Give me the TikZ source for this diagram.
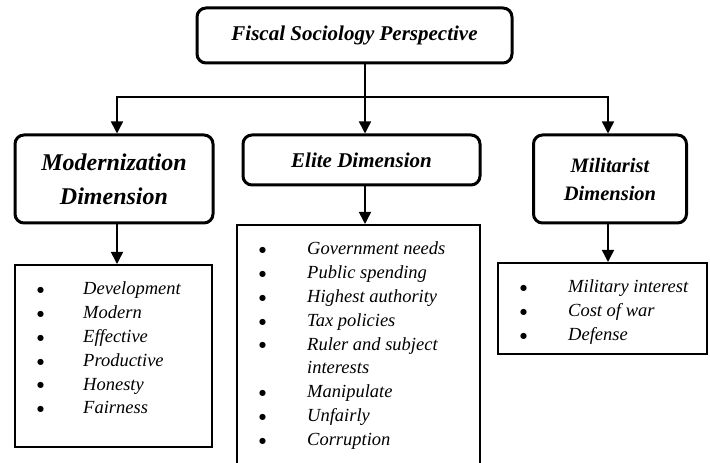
\documentclass[tikz,border=0pt]{standalone}
\usepackage{fontspec}
\setmainfont{Liberation Serif}
\newfontfamily\symbolfont{DejaVu Sans}
\usetikzlibrary{arrows.meta}

\tikzset{
  headbox/.style={draw, line width=3pt, rounded corners=9pt, align=center,
    font=\bfseries\itshape, inner sep=0pt},
  listbox/.style={draw, line width=2pt, inner sep=0pt},
  listtext/.style={anchor=base west, inner sep=0pt,
    font=\fontsize{18.5}{23.8}\selectfont\itshape},
  conn/.style={line width=1.5pt},
  arr/.style={conn, -{Triangle[length=12pt,width=12pt]}},
}
\newcommand{\itembullet}[1]{\makebox[#1][l]{\raisebox{2.2pt}{\symbolfont\fontsize{8}{8}\selectfont ●}}}

\begin{document}
\begin{tikzpicture}[x=1pt,y=1pt]
\useasboundingbox (0,0) rectangle (710,463);

% heading boxes
\node[headbox, minimum width=315pt, minimum height=55pt,
  font=\bfseries\itshape\fontsize{21}{25}\selectfont] (top) at (354.5,427.5)
  {Fiscal Sociology Perspective};
\node[headbox, minimum width=198pt, minimum height=88pt,
  font=\bfseries\itshape\fontsize{24}{34}\selectfont] (mod) at (114,284)
  {Modernization\\Dimension};
\node[headbox, minimum width=237pt, minimum height=50pt,
  font=\bfseries\itshape\fontsize{21}{25}\selectfont] (elite) at (361.5,303)
  {Elite Dimension};
\node[headbox, minimum width=153pt, minimum height=88pt,
  font=\bfseries\itshape\fontsize{20.5}{28}\selectfont] (mil) at (610,284)
  {Militarist\\Dimension};

% list boxes
\node[listbox, minimum width=197pt, minimum height=182pt] (modlist) at (113.5,107) {};
\node[listbox, minimum width=243pt, minimum height=243pt] (elitelist) at (358.5,116.5) {};
\node[listbox, minimum width=209pt, minimum height=91pt] (millist) at (602.5,154.5) {};

% list contents
\node[listtext] (modtext) at (37,168) {\begin{tabular}[t]{@{}l@{}l@{}}
\itembullet{46pt} & Development\\
\itembullet{46pt} & Modern\\
\itembullet{46pt} & Effective\\
\itembullet{46pt} & Productive\\
\itembullet{46pt} & Honesty\\
\itembullet{46pt} & Fairness
\end{tabular}};
\node[listtext] (elitetext) at (259,208) {\begin{tabular}[t]{@{}l@{}l@{}}
\itembullet{48pt} & Government needs\\
\itembullet{48pt} & Public spending\\
\itembullet{48pt} & Highest authority\\
\itembullet{48pt} & Tax policies\\
\itembullet{48pt} & Ruler and subject\\
 & interests\\
\itembullet{48pt} & Manipulate\\
\itembullet{48pt} & Unfairly\\
\itembullet{48pt} & Corruption
\end{tabular}};
\node[listtext] (miltext) at (520,170) {\begin{tabular}[t]{@{}l@{}l@{}}
\itembullet{48pt} & Military interest\\
\itembullet{48pt} & Cost of war\\
\itembullet{48pt} & Defense
\end{tabular}};

% connectors
\coordinate (split) at (365,366);
\draw[conn] (top.south -| split) -- (split);
\draw[arr] (split) -- (elite.north -| split);
\draw[arr] (split) -| ([xshift=3pt]mod.north);
\draw[arr] (split) -| ([xshift=-2pt]mil.north);
\draw[arr] ([xshift=3pt]mod.south) -- ([xshift=3pt]mod.south |- modlist.north);
\draw[arr] ([xshift=3.5pt]elite.south) -- ([xshift=3.5pt]elite.south |- elitelist.north);
\draw[arr] ([xshift=-2pt]mil.south) -- ([xshift=-2pt]mil.south |- millist.north);
\end{tikzpicture}
\end{document}
